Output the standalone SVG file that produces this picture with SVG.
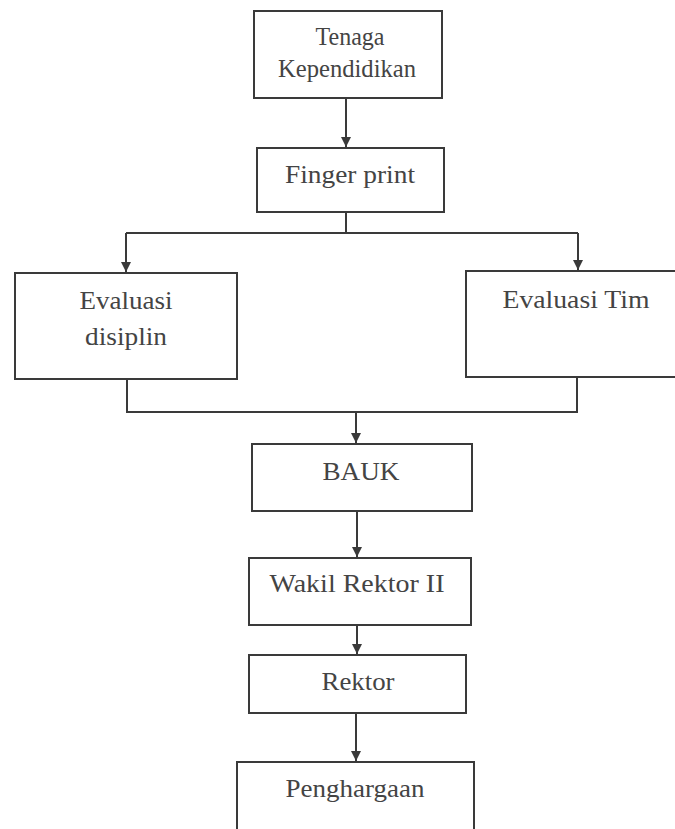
<svg xmlns="http://www.w3.org/2000/svg" width="675" height="829" viewBox="0 0 675 829">
<style>
.box{fill:#fff;stroke:#3a3a3a;stroke-width:2}
.lbl{font-family:"Liberation Serif","Times New Roman",serif;font-size:25px;fill:#444;text-anchor:middle}
.con{fill:none;stroke:#3a3a3a;stroke-width:2}
</style>
<defs>
<marker id="ah" viewBox="0 0 10 10" refX="10" refY="5" markerWidth="10" markerHeight="10" markerUnits="userSpaceOnUse" orient="auto">
<path d="M0,0 L10,5 L0,10 Z" fill="#3a3a3a"/>
</marker>
</defs>
<rect width="675" height="829" fill="#fff"/>
<g id="connectors">
<path class="con" d="M346,98 V147" marker-end="url(#ah)"/>
<path class="con" d="M346,212 V233 M126,233 H578"/>
<path class="con" d="M126,233 V272" marker-end="url(#ah)"/>
<path class="con" d="M578,233 V270" marker-end="url(#ah)"/>
<path class="con" d="M127,379 V412 H577 V377"/>
<path class="con" d="M356,412 V443" marker-end="url(#ah)"/>
<path class="con" d="M357,511 V557" marker-end="url(#ah)"/>
<path class="con" d="M357,625 V654" marker-end="url(#ah)"/>
<path class="con" d="M356,713 V761" marker-end="url(#ah)"/>
</g>
<g id="tenaga">
<rect class="box" x="254" y="11" width="188" height="87"/>
<text class="lbl" x="350" y="45" textLength="69" lengthAdjust="spacingAndGlyphs">Tenaga</text>
<text class="lbl" x="347" y="77" textLength="138" lengthAdjust="spacingAndGlyphs">Kependidikan</text>
</g>
<g id="fingerprint">
<rect class="box" x="257" y="148" width="187" height="64"/>
<text class="lbl" x="350" y="183" textLength="130" lengthAdjust="spacingAndGlyphs">Finger print</text>
</g>
<g id="evaluasi-disiplin">
<rect class="box" x="15" y="273" width="222" height="106"/>
<text class="lbl" x="126" y="309" textLength="93" lengthAdjust="spacingAndGlyphs">Evaluasi</text>
<text class="lbl" x="126" y="345" textLength="82" lengthAdjust="spacingAndGlyphs">disiplin</text>
</g>
<g id="evaluasi-tim">
<rect class="box" x="466" y="271" width="220" height="106"/>
<text class="lbl" x="576" y="308" textLength="147" lengthAdjust="spacingAndGlyphs">Evaluasi Tim</text>
</g>
<g id="bauk">
<rect class="box" x="252" y="444" width="220" height="67"/>
<text class="lbl" x="361" y="480" textLength="77" lengthAdjust="spacingAndGlyphs">BAUK</text>
</g>
<g id="wakil-rektor">
<rect class="box" x="249" y="558" width="222" height="67"/>
<text class="lbl" x="357" y="592" textLength="175" lengthAdjust="spacingAndGlyphs">Wakil Rektor II</text>
</g>
<g id="rektor">
<rect class="box" x="249" y="655" width="217" height="58"/>
<text class="lbl" x="358" y="690" textLength="73" lengthAdjust="spacingAndGlyphs">Rektor</text>
</g>
<g id="penghargaan">
<rect class="box" x="237" y="762" width="237" height="80"/>
<text class="lbl" x="355" y="797" textLength="139" lengthAdjust="spacingAndGlyphs">Penghargaan</text>
</g>
</svg>
